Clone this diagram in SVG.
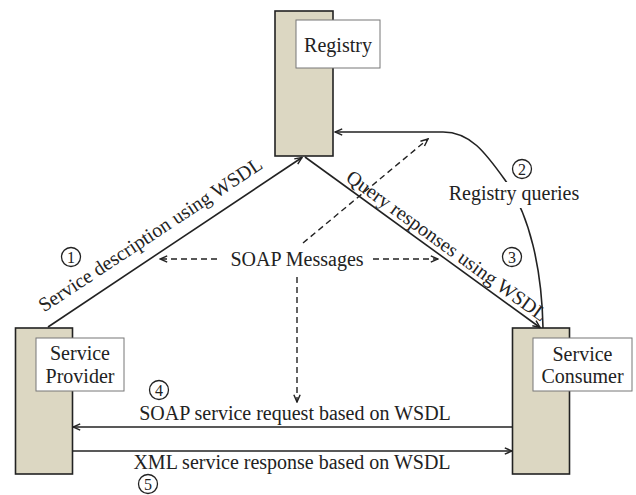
<svg xmlns="http://www.w3.org/2000/svg" width="636" height="495" viewBox="0 0 636 495">
<style>
.bar{fill:#dcd7c2;stroke:#222;stroke-width:1.6}
.lbl{fill:#fff;stroke:#777;stroke-width:1}
.t{font-family:"Liberation Serif","Times New Roman",serif;font-size:20px;fill:#222}
.n{font-family:"Liberation Serif","Times New Roman",serif;font-size:16px;fill:#222;text-anchor:middle}
.c{fill:#fff;stroke:#222;stroke-width:1.3}
.ln{fill:none;stroke:#222;stroke-width:1.6}
.ds{fill:none;stroke:#222;stroke-width:1.4;stroke-dasharray:6 4}
</style>
<defs>
<marker id="arr" viewBox="0 0 10 10" refX="9" refY="5" markerWidth="9" markerHeight="9" markerUnits="userSpaceOnUse" orient="auto">
<path d="M1,1.5 L9,5 L1,8.5" fill="none" stroke="#222" stroke-width="1.6"/>
</marker>
</defs>
<rect width="636" height="495" fill="#fff"/>

<g id="registry">
<rect class="bar" x="275" y="11" width="58" height="145"/>
<rect class="lbl" x="296" y="20" width="84" height="48"/>
<text class="t" x="338" y="52" text-anchor="middle">Registry</text>
</g>
<g id="provider">
<rect class="bar" x="15.5" y="328" width="57" height="146"/>
<rect class="lbl" x="36" y="338" width="88" height="53"/>
<text class="t" x="80" y="360" text-anchor="middle">Service</text>
<text class="t" x="80" y="383" text-anchor="middle">Provider</text>
</g>
<g id="consumer">
<rect class="bar" x="512.5" y="328" width="57" height="146"/>
<rect class="lbl" x="533" y="338" width="99" height="53"/>
<text class="t" x="582.5" y="361" text-anchor="middle">Service</text>
<text class="t" x="582.5" y="383" text-anchor="middle">Consumer</text>
</g>

<g id="connectors">
<line class="ln" x1="48" y1="327" x2="302" y2="157.5" marker-end="url(#arr)"/>
<line class="ln" x1="305" y1="157" x2="540" y2="327.5" marker-end="url(#arr)"/>
<path class="ln" d="M543,328 C542,270 530,215 505,180 C485,152 470,132 443,132 L335,132" marker-end="url(#arr)"/>
<line class="ln" x1="512.5" y1="427" x2="73" y2="427" marker-end="url(#arr)"/>
<line class="ln" x1="72.5" y1="451" x2="512" y2="451" marker-end="url(#arr)"/>
<line class="ds" x1="303" y1="243" x2="428" y2="139" marker-end="url(#arr)"/>
<line class="ds" x1="217" y1="259" x2="160" y2="259" marker-end="url(#arr)"/>
<line class="ds" x1="373" y1="259" x2="438" y2="259" marker-end="url(#arr)"/>
<line class="ds" x1="297" y1="277" x2="297" y2="402" marker-end="url(#arr)"/>
</g>

<g id="labels">
<text class="t" text-anchor="middle" transform="translate(154,240) rotate(-33.4)">Service description using WSDL</text>
<text class="t" text-anchor="middle" transform="translate(443,251) rotate(35.9)">Query responses using WSDL</text>
<rect x="439" y="182" width="151" height="26" fill="#fff"/>
<text class="t" x="514" y="200" text-anchor="middle">Registry queries</text>
<text class="t" x="297" y="266" text-anchor="middle">SOAP Messages</text>
<text class="t" x="295" y="420" text-anchor="middle">SOAP service request based on WSDL</text>
<text class="t" x="292" y="469" text-anchor="middle">XML service response based on WSDL</text>
<circle class="c" cx="71" cy="257" r="9.5"/><text class="n" x="71" y="262.5">1</text>
<circle class="c" cx="522" cy="169" r="9.5"/><text class="n" x="522" y="174.5">2</text>
<circle class="c" cx="512" cy="257" r="9.5"/><text class="n" x="512" y="262.5">3</text>
<circle class="c" cx="159" cy="390" r="9.5"/><text class="n" x="159" y="395.5">4</text>
<circle class="c" cx="148" cy="484" r="9.5"/><text class="n" x="148" y="489.5">5</text>
</g>
</svg>
